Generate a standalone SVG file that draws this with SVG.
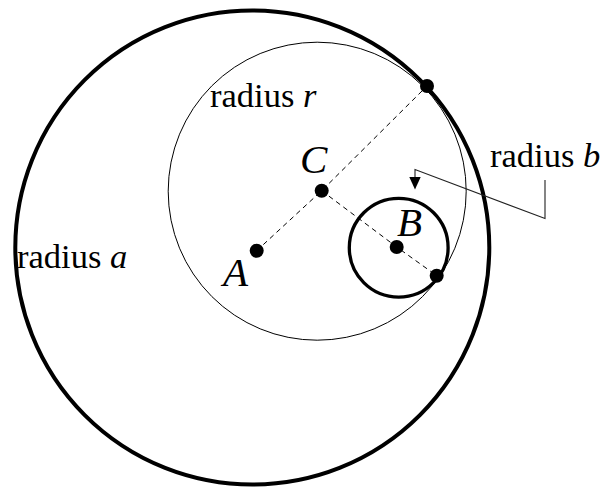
<svg xmlns="http://www.w3.org/2000/svg" width="602" height="488" viewBox="0 0 602 488">
<style>
.lbl{font-family:"Liberation Serif","Times New Roman",serif;font-size:34.5px;fill:#000}
.it{font-style:italic}
.pt{font-family:"Liberation Serif","Times New Roman",serif;font-size:41px;font-style:italic;fill:#000}
.dot{fill:#000}
.dash{fill:none;stroke:#000;stroke-width:1;stroke-dasharray:5 4}
</style>
<rect width="602" height="488" fill="#fff"/>
<g id="circle-a">
<circle cx="252.3" cy="247.5" r="237" fill="none" stroke="#000" stroke-width="4"/>
<text class="lbl" x="17" y="268">radius <tspan class="it">a</tspan></text>
</g>
<g id="circle-r">
<circle cx="317.2" cy="191.2" r="149" fill="none" stroke="#000" stroke-width="1"/>
<text class="lbl" x="210" y="107">radius <tspan class="it">r</tspan></text>
</g>
<g id="circle-b">
<circle cx="398.7" cy="247.7" r="49.4" fill="none" stroke="#000" stroke-width="3.3"/>
<text class="lbl" x="490" y="167">radius <tspan class="it">b</tspan></text>
</g>
<g id="connectors">
<polyline class="dash" points="256.7,250.7 321.7,190.7 427,86"/>
<polyline class="dash" points="321.7,190.7 396.7,247 436.7,275.7"/>
<polyline points="415,178 415,169.5 545,218.5 545,180" fill="none" stroke="#222" stroke-width="1.1"/>
<polygon points="409.3,177 420.7,177 415,189.5" fill="#000"/>
</g>
<g id="point-A">
<circle class="dot" cx="256.7" cy="250.7" r="7"/>
<text class="pt" x="223" y="286">A</text>
</g>
<g id="point-C">
<circle class="dot" cx="321.7" cy="190.7" r="7"/>
<text class="pt" x="300" y="173">C</text>
</g>
<g id="point-B">
<circle class="dot" cx="396.7" cy="247" r="7"/>
<text class="pt" x="397" y="236">B</text>
</g>
<g id="point-T1">
<circle class="dot" cx="427" cy="86" r="7"/>
</g>
<g id="point-T2">
<circle class="dot" cx="436.7" cy="275.7" r="7"/>
</g>
</svg>
